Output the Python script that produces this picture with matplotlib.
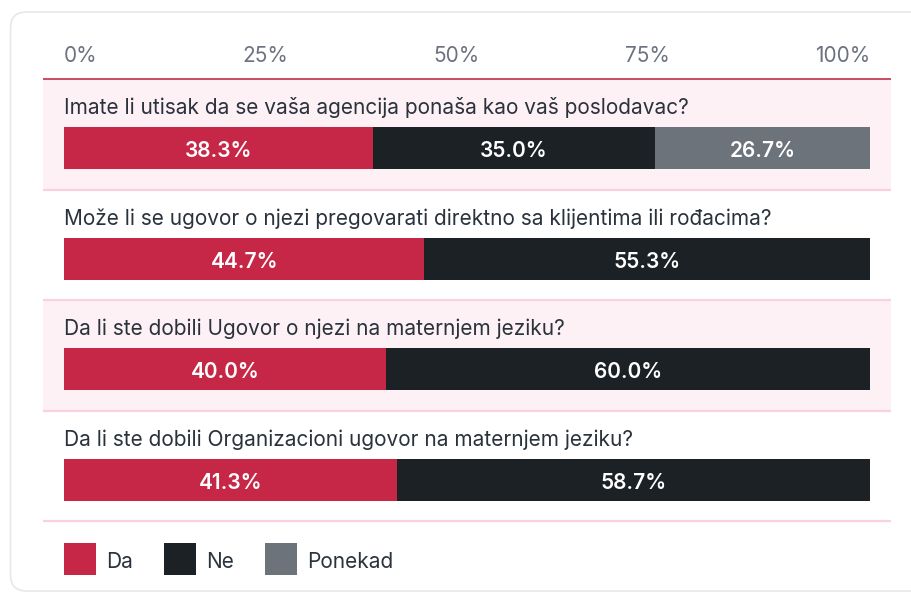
import matplotlib
matplotlib.use('Agg')
import matplotlib.pyplot as plt
from matplotlib.patches import FancyBboxPatch, Rectangle
from matplotlib.transforms import IdentityTransform

plt.rcParams['font.family'] = ['Inter', 'DejaVu Sans']

# ---------------- data ----------------
questions = [
    "Imate li utisak da se vaša agencija ponaša kao vaš poslodavac?",
    "Može li se ugovor o njezi pregovarati direktno sa klijentima ili rođacima?",
    "Da li ste dobili Ugovor o njezi na maternjem jeziku?",
    "Da li ste dobili Organizacioni ugovor na maternjem jeziku?",
]
da = [38.3, 44.7, 40.0, 41.3]
ne = [35.0, 55.3, 60.0, 58.7]
ponekad = [26.7, 0.0, 0.0, 0.0]
series_names = ["Da", "Ne", "Ponekad"]
tick_values = [0, 25, 50, 75, 100]
tick_labels = ["0%", "25%", "50%", "75%", "100%"]

# ---------------- style ----------------
colors = ["#c72746", "#1b2124", "#6d737b"]
text_dark = "#2a323c"
tick_gray = "#6b7280"
band_pink = "#fdf1f5"
sep_pink = "#fbd2db"
top_line = "#bf2f4b"

W, H = 911, 594
fig = plt.figure(figsize=(W / 100, H / 100), dpi=100)
fig.patch.set_facecolor("white")

# card
card = FancyBboxPatch((10.5, 3), 940, 579, boxstyle="round,pad=0,rounding_size=16",
                      transform=IdentityTransform(), facecolor="white",
                      edgecolor="#e6e7ea", linewidth=1.2, zorder=-5)
fig.patches.append(card)

X0, X1 = 64, 870  # plot area in px
ax = fig.add_axes([X0 / W, 0, (X1 - X0) / W, 1])
ax.set_zorder(2)
ax.set_xlim(0, 100)
ax.set_ylim(H, 0)
ax.axis("off")
ax.patch.set_alpha(0)


def px2x(px):
    return (px - X0) / (X1 - X0) * 100


FS = 15.0  # pt
row_top0 = 79
row_h = 110.6
band_left, band_right = px2x(43), px2x(891)

series = [da, ne, ponekad]
for i, q in enumerate(questions):
    top = row_top0 + i * row_h
    if i % 2 == 0:
        ax.add_patch(Rectangle((band_left, top), band_right - band_left, row_h,
                               facecolor=band_pink, edgecolor="none", clip_on=False, zorder=1))
    ax.plot([band_left, band_right], [top + row_h, top + row_h], color=sep_pink,
            lw=1.6, clip_on=False, zorder=2, solid_capstyle="butt")
    ax.text(0, top + 35, q, fontsize=FS, color=text_dark, ha="left", va="baseline", zorder=3)
    left = 0.0
    yc = top + 69
    for s, vals in enumerate(series):
        v = vals[i]
        if v <= 0:
            continue
        ax.barh(yc, v, left=left, height=42, color=colors[s], edgecolor="none", zorder=3)
        ax.text(left + v / 2, yc + 1, f"{v:.1f}%", fontsize=FS, color="white",
                ha="center", va="center_baseline", fontweight="semibold", zorder=4)
        left += v

ax.plot([band_left, band_right], [row_top0, row_top0], color=top_line, lw=1.2,
        clip_on=False, zorder=4, solid_capstyle="butt")

# tick labels laid out like flex space-between
fig.canvas.draw()
renderer = fig.canvas.get_renderer()
tick_texts = [ax.text(0, 62, lab, fontsize=FS, color=tick_gray, ha="left", va="baseline")
              for lab in tick_labels]
widths = [t.get_window_extent(renderer).width for t in tick_texts]
gap = ((X1 - X0) - sum(widths)) / (len(widths) - 1)
pos = X0
for t, w in zip(tick_texts, widths):
    t.set_x(px2x(pos))
    pos += w + gap

# legend
lx = X0
ly_top, lsz = 543, 32
for name, c in zip(series_names, colors):
    ax.add_patch(Rectangle((px2x(lx), ly_top), px2x(lx + lsz) - px2x(lx), lsz,
                           facecolor=c, edgecolor="none", clip_on=False))
    t = ax.text(px2x(lx + lsz + 10), ly_top + lsz / 2 + 1, name, fontsize=FS,
                color=text_dark, ha="left", va="center_baseline")
    w = t.get_window_extent(renderer).width
    lx = lx + lsz + 10 + w + 31

fig.savefig("out.png", dpi=100, facecolor="white")
